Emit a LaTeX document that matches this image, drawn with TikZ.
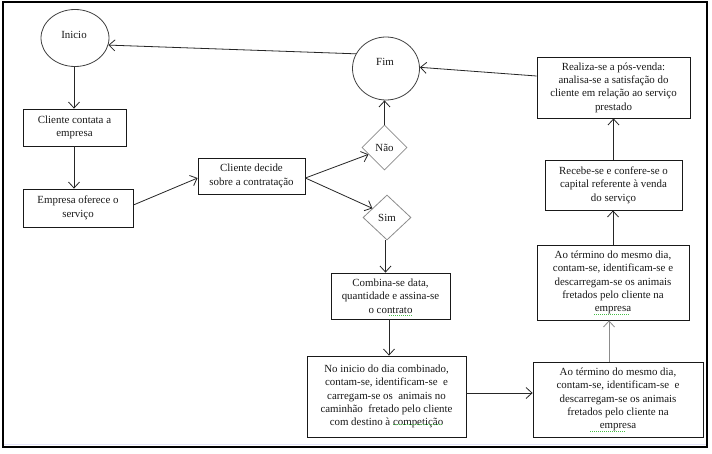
\documentclass[tikz,border=0pt]{standalone}
\usepackage{fontspec}
\setmainfont{Liberation Serif}
\usetikzlibrary{shapes.geometric,arrows.meta,calc}
\definecolor{spellgreen}{RGB}{70,190,70}
\begin{document}
\begin{tikzpicture}[x=1pt,y=-1pt,
  every node/.style={font=\fontsize{10.9}{13.4}\selectfont, inner sep=0pt, align=center, text=black!90},
  box/.style={draw=black!90, line width=0.8pt, rectangle},
  oval/.style={draw=black!75, line width=0.8pt, ellipse},
  dia/.style={draw=black!45, line width=0.8pt, diamond},
  arr/.style={draw=black!85, line width=0.8pt, -{Straight Barb[length=6pt,width=11pt,line width=0.8pt]}},
  garr/.style={arr, draw=black!45},
  spell/.style={draw=spellgreen, line width=0.8pt, dash pattern=on 1pt off 1pt}]
\useasboundingbox (0,0) rectangle (712,453);
\fill[white] (0,0) rectangle (712,453);
\draw[line width=1.4pt] (3,2) rectangle (707,447);
\draw[line width=1.3pt, draw=black!18!blue!10!white] (4,444.5) -- (706,444.5);

% nodes
\node[oval, minimum width=68pt, minimum height=57pt] (inicio) at (75,38) {};
\node (tinicio) at (74,35) {Inicio};
\node[oval, minimum width=67pt, minimum height=63pt] (fim) at (386,68.5) {};
\node (tfim) at (385,62) {Fim};
\node[box, minimum width=103pt, minimum height=37pt] (c1) at (74.5,127.5) {Cliente contata a\\empresa};
\node[box, minimum width=110pt, minimum height=38pt] (c2) at (78,208) {Empresa oferece o\\serviço};
\node[box, minimum width=107pt, minimum height=36pt] (c3) at (251.5,176) {Cliente decide\\sobre a contratação};
\node[dia, minimum width=45pt, minimum height=45pt] (nao) at (384.5,147.5) {Não};
\node[dia, minimum width=48pt, minimum height=45pt] (sim) at (387,217.5) {Sim};
\node[box, minimum width=119pt, minimum height=46pt] (c4) at (390.5,296) {Combina-se data,\\quantidade e assina-se\\o contrato};
\node[box, minimum width=159pt, minimum height=81pt] (c5) at (386.5,396.5) {No inicio do dia combinado,\\contam-se, identificam-se\ \ e\\carregam-se os\ \ animais no\\caminhão\ \ fretado pelo cliente\\com destino à competição};
\node[box, minimum width=170pt, minimum height=75pt] (c6) at (618,399.5) {Ao término do mesmo dia,\\contam-se, identificam-se\ \ e\\descarregam-se os animais\\fretados pelo cliente na\\empresa};
\node[box, minimum width=152pt, minimum height=75pt] (c7) at (613,282.5) {Ao término do mesmo dia,\\contam-se, identificam-se e\\descarregam-se os animais\\fretados pelo cliente na\\empresa};
\node[box, minimum width=137pt, minimum height=50pt] (c8) at (613.5,185) {Recebe-se e confere-se o\\capital referente à venda\\do serviço};
\node[box, minimum width=153pt, minimum height=61pt] (c9) at (613.5,87.5) {Realiza-se a pós-venda:\\analisa-se a satisfação do\\cliente em relação ao serviço\\prestado};

% connectors
\draw[arr] ($(inicio.south)+(-1,0)$) coordinate (i0) -- (i0 |- c1.north);
\draw[arr] (c1.south -| i0) -- (i0 |- c2.north);
\draw[arr] ($(c2.east)+(0,-3)$) -- ($(c3.west)+(0,2)$);
\draw[arr] ($(c3.east)+(0,2)$) coordinate (c3e) -- ($(nao.west)!0.3!(nao.south)$);
\draw[arr] (c3e) -- ($(sim.west)!0.4!(sim.north)$);
\draw[arr] (nao.north) -- (nao.north |- fim.south);
\draw[arr] (fim.154) -- (inicio.-12);
\draw[arr] ($(c9.west)+(0,-11.5)$) -- (fim.2);
\draw[arr] ($(sim.south)+(-1.5,0)$) coordinate (s0) -- (s0 |- c4.north);
\draw[arr] ($(c4.south)+(-1.5,0)$) coordinate (k0) -- (k0 |- c5.north);
\draw[arr] ($(c5.east)+(0,-3.5)$) coordinate (n0) -- (n0 -| c6.west);
\draw[garr] ($(c6.north)+(-9,0)$) coordinate (a0) -- (a0 |- c7.south);
\draw[arr] (c7.north) -- (c7.north |- c8.south);
\draw[arr] (c8.north) -- (c8.north |- c9.south);

% spell-check marks
\draw[spell] (389,315.5) -- (412,315.5);
\draw[spell] (393,424.5) -- (442,424.5);
\draw[spell] (594,314.5) -- (630,314.5);
\draw[spell] (590,431.5) -- (626,431.5);
\end{tikzpicture}
\end{document}
